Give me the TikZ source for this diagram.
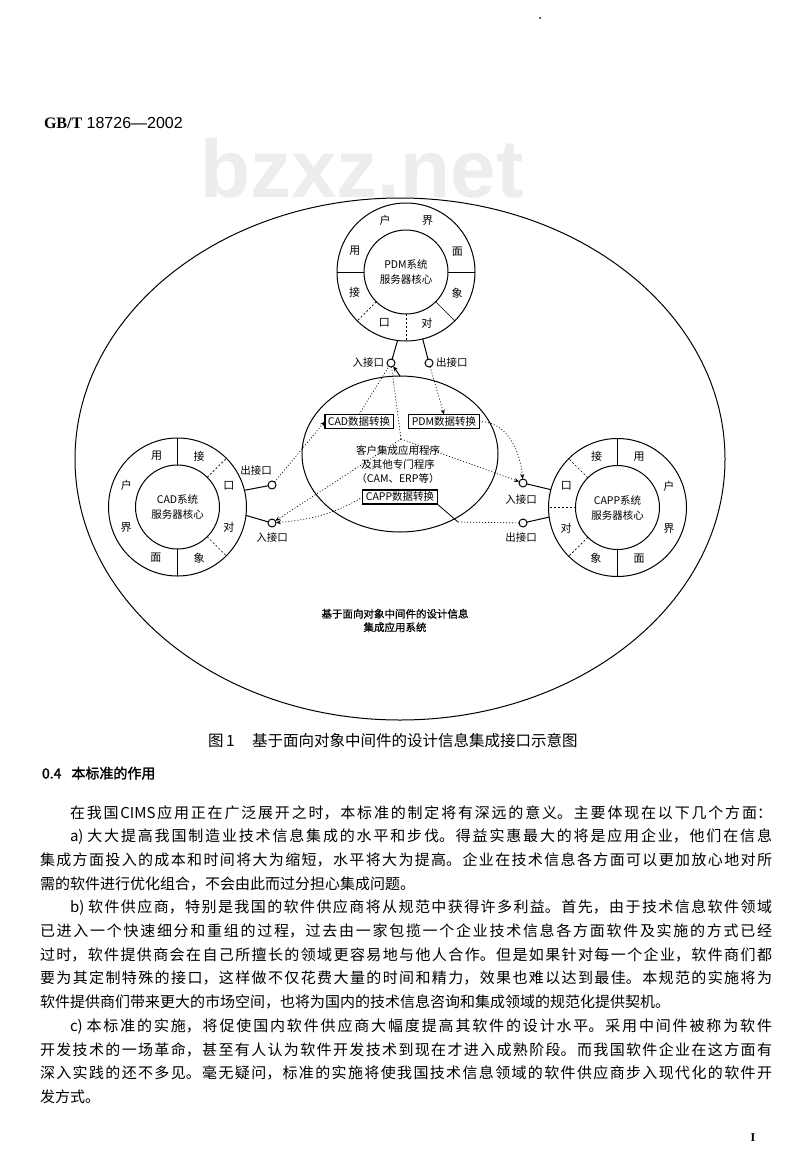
\documentclass[tikz,border=0pt]{standalone}
\usepackage{fontspec}
\setmainfont{Noto Sans CJK SC}
\newfontfamily\hfont[FakeBold=1.5]{Noto Sans CJK SC}
\newfontfamily\sfont[FakeBold=0.8]{Noto Sans CJK SC}
\newfontfamily\lsans{Liberation Sans}
\newfontfamily\lserif{Liberation Serif}
\usetikzlibrary{shapes.geometric,arrows.meta,calc}
\XeTeXlinebreaklocale "zh"
\XeTeXlinebreakskip=0pt plus 6pt minus 1pt
\tolerance=10000
\hbadness=10000
\begin{document}
\begin{tikzpicture}[x=1pt,y=-1pt,
  every node/.style={inner sep=0pt,outer sep=0pt},
  ring/.style={circle,draw,line width=1pt,minimum size=138pt},
  core/.style={circle,draw,line width=1pt,minimum size=84pt,align=center,font=\fontsize{10.5}{15}\selectfont},
  guide/.style={circle,minimum size=111pt},
  seglabel/.style={font=\fontsize{11}{11}\selectfont},
  div/.style={line width=1pt},
  divthin/.style={line width=0.7pt},
  divd/.style={line width=0.7pt,dash pattern=on 2pt off 2pt},
  port/.style={circle,draw,line width=1pt,minimum size=8pt,fill=white},
  plabel/.style={font=\fontsize{10.5}{11}\selectfont},
  conv/.style={draw,line width=1.3pt,font=\fontsize{10.5}{11}\selectfont,inner xsep=3pt,minimum height=14pt},
  flow/.style={line width=0.7pt,dash pattern=on 1pt off 2pt},
  flowto/.style={flow,-{Stealth[length=5pt,width=4pt]}},
  solidto/.style={line width=1pt,-{Stealth[length=5pt,width=4.5pt]}},
]
\useasboundingbox (0,0) rectangle (800,1156);
\fill[white] (0,0) rectangle (800,1156);

% header, watermark, page marks
\node[anchor=base west,text=gray!14,font=\lsans\bfseries\fontsize{82}{82}\selectfont] (wm) at (200,197) {bzxz.net};
\node[anchor=base west,font=\lsans\fontsize{16}{16}\selectfont] (hdr) at (44,128.5) {{\lserif\bfseries GB/T} 18726—2002};
\fill (540,18) circle (1pt);
\node[font=\lserif\bfseries\fontsize{12}{12}\selectfont] (pg) at (753,1138) {I};

% system ellipse
\node[ellipse,draw,line width=1pt,minimum width=650pt,minimum height=522pt] (sys) at (400,459) {};

% PDM ring
\node[ring] (pdm) at (406,272) {};
\node[core] (pdmc) at (406,272) {PDM系统\\服务器核心};
\node[guide] (pdmg) at (406,272) {};
\draw[div] (pdmc.0) -- (pdm.0);
\draw[div] (pdmc.180) -- (pdm.180);
\foreach \a in {225,270} \draw[divd] (pdmc.\a) -- (pdm.\a);
\draw[divthin] (pdmc.315) -- (pdm.315);
\foreach \a/\t [count=\i] in {157.5/用,112.5/户,67.5/界,22.5/面,202.5/接,247.5/口,292.5/对,337.5/象}
  \node[seglabel] (pdmL\i) at (pdmg.\a) {\t};

% CAD ring
\node[ring] (cad) at (177.5,507) {};
\node[core] (cadc) at (177.5,507) {CAD系统\\服务器核心};
\node[guide] (cadg) at (177.5,507) {};
\draw[div] (cadc.90) -- (cad.90);
\draw[div] (cadc.270) -- (cad.270);
\foreach \a in {45,-45} \draw[divd] (cadc.\a) -- (cad.\a);
\foreach \a/\t [count=\i] in {112.5/用,157.5/户,202.5/界,247.5/面,67.5/接,22.5/口,-22.5/对,-67.5/象}
  \node[seglabel] (cadL\i) at (cadg.\a) {\t};

% CAPP ring
\node[ring] (capp) at (617.5,507.5) {};
\node[core] (cappc) at (617.5,507.5) {CAPP系统\\服务器核心};
\node[guide] (cappg) at (617.5,507.5) {};
\draw[div] (cappc.90) -- (capp.90);
\draw[div,line width=1.6pt] (cappc.270) -- (capp.270);
\foreach \a in {135,180,225} \draw[divd] (cappc.\a) -- (capp.\a);
\foreach \a/\t [count=\i] in {112.5/接,157.5/口,202.5/对,247.5/象,67.5/用,22.5/户,-22.5/界,-67.5/面}
  \node[seglabel] (cappL\i) at (cappg.\a) {\t};

% client application ellipse
\node[ellipse,draw,line width=1pt,minimum width=196pt,minimum height=156pt] (app) at (400,454) {};
\node[conv] (cadbox) at (359,421.5) {CAD数据转换};
\node[conv] (pdmbox) at (444,421.5) {PDM数据转换};
\node[conv] (cappbox) at (400,497) {CAPP数据转换};
\node[align=center,font=\fontsize{10.5}{14}\selectfont] (apptxt) at (398,465) {客户集成应用程序\\及其他专门程序\\（CAM、ERP等）};
\coordinate (hub) at (401,439);
\coordinate (cappJ) at (458,522);

% ports
\node[port] (pdmIn) at (391,363) {};
\node[port] (pdmOut) at (429,363) {};
\node[port] (cadOut) at (272,485) {};
\node[port] (cadIn) at (272,523) {};
\node[port] (cappIn) at (523,483) {};
\node[port] (cappOut) at (523,523) {};
\node[plabel,anchor=east] (pdmInL) at (384,363) {入接口};
\node[plabel,anchor=west] (pdmOutL) at (436,363) {出接口};
\node[plabel] (cadOutL) at (256,471) {出接口};
\node[plabel] (cadInL) at (272,538) {入接口};
\node[plabel] (cappInL) at (521,500) {入接口};
\node[plabel] (cappOutL) at (521,538) {出接口};

\draw[div] (pdm.-97) -- (pdmIn);
\draw[div] (pdm.-76) -- (pdmOut);
\draw[div] (cad.14) -- (cadOut);
\draw[div] (cad.-7) -- (cadIn);
\draw[div] (capp.165) -- (cappIn);
\draw[div] (capp.-172) -- (cappOut);

% flows
\draw[solidto] (app.north) -- (pdmIn);
\draw[flow] (cadbox.north) -- (pdmIn);
\draw[flow] (hub) -- (pdmIn);
\draw[flowto] (pdmOut) -- (pdmbox.north);
\draw[flowto] (pdmbox.east) to[out=0,in=95] (cappIn);
\draw[flowto] (hub) -- (cappIn);
\draw[flowto] (cadOut) -- (cadbox.west);
\draw[flowto] (hub) -- (cadIn);
\draw[flowto] (cappbox.west) to[out=210,in=5] (cadIn);
\draw[flow] (cappOut) -- (cappJ);
\draw[line width=0.8pt] (cappJ) -- (cappbox.south east);

\node[align=center,font=\sfont\fontsize{10.5}{13.5}\selectfont] (systxt) at (395,620.5) {基于面向对象中间件的设计信息\\集成应用系统};

% caption and section
\node[anchor=base west,font=\fontsize{15.5}{16}\selectfont] (capnum) at (208,746) {图\,1};
\node[anchor=base west,font=\fontsize{15.5}{16}\selectfont] (cap) at (252,746) {基于面向对象中间件的设计信息集成接口示意图};
\node[anchor=base west,font=\hfont\fontsize{14}{16}\selectfont] (sec) at (42,778.5) {0.4\hspace{10pt}本标准的作用};

% body text
\node[anchor=base west,text width=732pt,align=justify,font=\fontsize{15}{23.7}\selectfont] (body) at (40,818) {%
{\parfillskip=0pt\noindent\hspace*{30pt}在我国CIMS应用正在广泛展开之时，本标准的制定将有深远的意义。主要体现在以下几个方面：\par}
\noindent\hspace*{30pt}a) 大大提高我国制造业技术信息集成的水平和步伐。得益实惠最大的将是应用企业，他们在信息\linebreak
集成方面投入的成本和时间将大为缩短，水平将大为提高。企业在技术信息各方面可以更加放心地对所\linebreak
需的软件进行优化组合，不会由此而过分担心集成问题。\par
\noindent\hspace*{30pt}b) 软件供应商，特别是我国的软件供应商将从规范中获得许多利益。首先，由于技术信息软件领域\linebreak
已进入一个快速细分和重组的过程，过去由一家包揽一个企业技术信息各方面软件及实施的方式已经\linebreak
过时，软件提供商会在自己所擅长的领域更容易地与他人合作。但是如果针对每一个企业，软件商们都\linebreak
要为其定制特殊的接口，这样做不仅花费大量的时间和精力，效果也难以达到最佳。本规范的实施将为\linebreak
软件提供商们带来更大的市场空间，也将为国内的技术信息咨询和集成领域的规范化提供契机。\par
\noindent\hspace*{30pt}c) 本标准的实施，将促使国内软件供应商大幅度提高其软件的设计水平。采用中间件被称为软件\linebreak
开发技术的一场革命，甚至有人认为软件开发技术到现在才进入成熟阶段。而我国软件企业在这方面有\linebreak
深入实践的还不多见。毫无疑问，标准的实施将使我国技术信息领域的软件供应商步入现代化的软件开\linebreak
发方式。\par};
\end{tikzpicture}
\end{document}
